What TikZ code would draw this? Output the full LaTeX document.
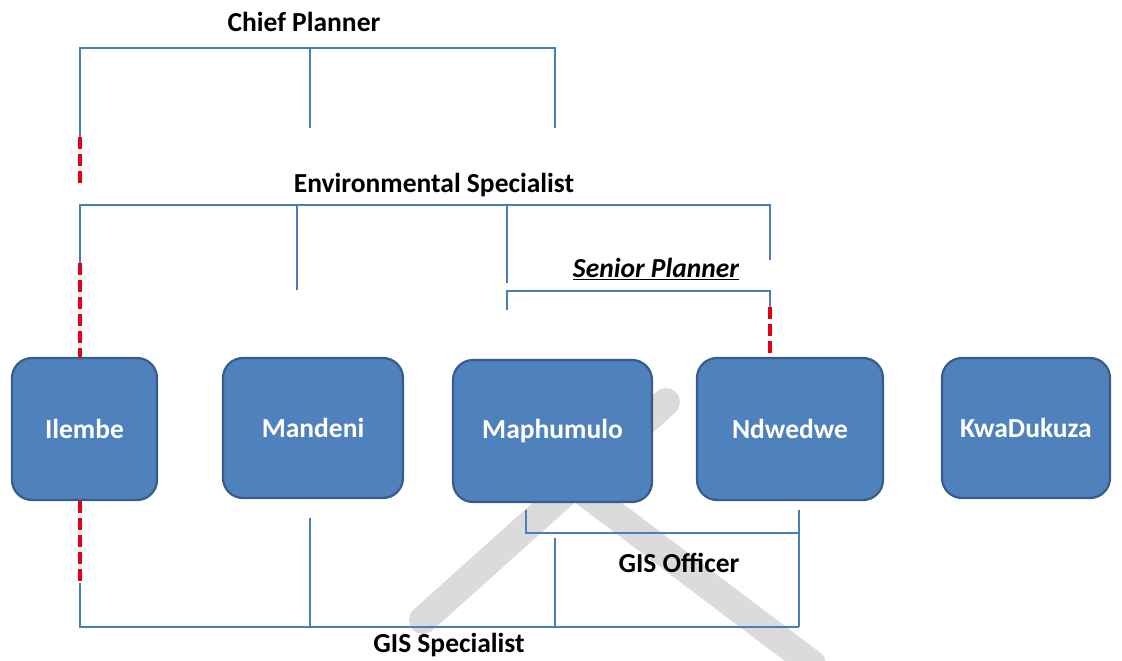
\documentclass[tikz,border=0pt]{standalone}
\usepackage{fontspec}
\setmainfont{Carlito}
\usepackage{tikz}
\usetikzlibrary{positioning}
\definecolor{boxfill}{RGB}{79,129,189}
\definecolor{boxline}{RGB}{56,93,138}
\definecolor{lineblue}{RGB}{74,126,187}
\definecolor{linered}{RGB}{226,0,18}

\begin{document}
\begin{tikzpicture}[x=1pt, y=-1pt,
  font=\bfseries\fontsize{27.5}{33}\selectfont,
  box/.style={draw=boxline, line width=2.2pt, fill=boxfill, rounded corners=20pt,
              text=white, inner sep=0pt},
  ln/.style={draw=lineblue, line width=2.8pt},
  rd/.style={draw=linered, line width=3.6pt, dash pattern=on 12pt off 5pt},
  wm/.style={draw=black!14, line width=28pt, line cap=round},
  lbl/.style={inner sep=0pt}]
\useasboundingbox (0,0) rectangle (1122,661);
% watermark behind everything
\draw[wm] (423,620) -- (666,402);
\draw[wm] (575,485) -- (812,664);
% the five municipalities
\node[box, minimum width=145pt, minimum height=142pt] (ilembe) at (84.5,429) {Ilembe};
\node[box, minimum width=180pt, minimum height=140pt] (mandeni) at (313,428) {Mandeni};
\node[box, minimum width=199pt, minimum height=142pt] (maphumulo) at (552.5,431) {Maphumulo};
\node[box, minimum width=186pt, minimum height=142pt] (ndwedwe) at (790,429) {Ndwedwe};
\node[box, minimum width=168pt, minimum height=140pt] (kwadukuza) at (1026,428) {KwaDukuza};
% role labels
\node[lbl] (chief) at (304,22) {Chief Planner};
\node[lbl] (env) at (434,185) {Environmental Specialist};
\node[lbl] (senior) at (656,269) {\itshape\underline{Senior Planner}};
\node[lbl] (gisoff) at (679,563) {GIS Officer};
\node[lbl] (gisspec) at (449,645) {GIS Specialist};
% chief planner bracket
\coordinate (cpa) at (80,48);
\coordinate (cpb) at (555,48);
\coordinate (cpc) at (310,48);
\coordinate (cpd) at (80,137);
\coordinate (cpe) at (80,185);
\coordinate (cpf) at (310,128);
\coordinate (cpg) at (555,128);
\draw[ln] (cpd) -- (cpa) -- (cpb) -- (cpg);
\draw[ln] (cpc) -- (cpf);
\draw[rd] (cpd) -- (cpe);
% environmental specialist bracket
\coordinate (esa) at (80,205);
\coordinate (esb) at (770,205);
\coordinate (esc) at (297,205);
\coordinate (esd) at (507,205);
\coordinate (ese) at (80,263);
\coordinate (esf) at (297,290);
\coordinate (esg) at (507,283);
\coordinate (esh) at (770,260);
\draw[ln] (ese) -- (esa) -- (esb) -- (esh);
\draw[ln] (esc) -- (esf);
\draw[ln] (esd) -- (esg);
\draw[rd] (ese) -- (ese |- ilembe.north);
% senior planner bracket
\coordinate (spa) at (507,291);
\coordinate (spb) at (770,291);
\coordinate (spc) at (507,310);
\coordinate (spd) at (770,307);
\draw[ln] (spc) -- (spa) -- (spb) -- (spd);
\draw[rd] (spd) -- (spd |- ndwedwe.north);
% gis officer bracket
\coordinate (goa) at (526,510);
\coordinate (gob) at (526,533);
\coordinate (goc) at (799,533);
\coordinate (god) at (799,510);
\coordinate (goe) at (799,627);
\draw[ln] (goa) -- (gob) -- (goc);
\draw[ln] (god) -- (goe);
% gis specialist bracket
\coordinate (gsa) at (80,583);
\coordinate (gsb) at (80,627);
\coordinate (gsc) at (310,518);
\coordinate (gsd) at (310,627);
\coordinate (gse) at (555,538);
\coordinate (gsf) at (555,627);
\draw[rd] (ilembe.south -| gsa) -- (gsa);
\draw[ln] (gsa) -- (gsb) -- (goe);
\draw[ln] (gsc) -- (gsd);
\draw[ln] (gse) -- (gsf);
\end{tikzpicture}
\end{document}
